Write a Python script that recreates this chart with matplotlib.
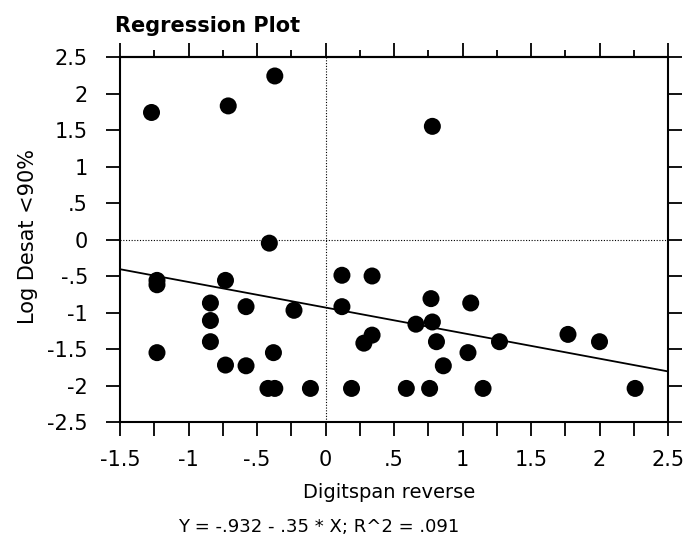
import matplotlib
matplotlib.use("Agg")
import matplotlib.pyplot as plt
import numpy as np

# Data
digitspan = [-1.27, -0.71, -0.37, 0.78, -0.41,
             -1.23, -1.23, -1.23, -0.73,
             -0.84, -0.84, -0.84, -0.58, -0.23,
             -0.73, -0.58, -0.38, -0.42, -0.37, -0.11,
             0.12, 0.12, 0.34, 0.34, 0.28, 0.19, 0.59,
             0.66, 0.77, 0.78, 0.81, 0.86, 0.76,
             1.06, 1.04, 1.15, 1.27, 1.77, 2.00, 2.26]
log_desat = [1.74, 1.83, 2.24, 1.55, -0.05,
             -0.56, -0.62, -1.55, -0.56,
             -0.87, -1.11, -1.40, -0.92, -0.97,
             -1.72, -1.73, -1.55, -2.04, -2.04, -2.04,
             -0.49, -0.92, -0.50, -1.31, -1.42, -2.04, -2.04,
             -1.16, -0.81, -1.13, -1.40, -1.73, -2.04,
             -0.87, -1.55, -2.04, -1.40, -1.30, -1.40, -2.04]
intercept = -0.932
slope = -0.35

x_ticks = [-1.5, -1, -0.5, 0, 0.5, 1, 1.5, 2, 2.5]
x_ticklabels = ["-1.5", "-1", "-.5", "0", ".5", "1", "1.5", "2", "2.5"]
y_ticks = [2.5, 2, 1.5, 1, 0.5, 0, -0.5, -1, -1.5, -2, -2.5]
y_ticklabels = ["2.5", "2", "1.5", "1", ".5", "0", "-.5", "-1", "-1.5", "-2", "-2.5"]

plt.rcParams['font.family'] = ['DejaVu Sans']

W, H = 691, 544
fig = plt.figure(figsize=(W / 100, H / 100), dpi=100)
L, R, T, B = 120, 668, 57, 422
ax = fig.add_axes([L / W, 1 - B / H, (R - L) / W, (B - T) / H])

ax.set_xlim(-1.5, 2.5)
ax.set_ylim(-2.5, 2.5)

ax.axhline(0, color="black", lw=0.8, ls=(0, (1, 1.5)), zorder=1)
ax.axvline(0, color="black", lw=0.8, ls=(0, (1, 1.5)), zorder=1)

xl = np.array([-1.5, 2.5])
ax.plot(xl, intercept + slope * xl, color="black", lw=1.3, zorder=2)

ax.scatter(digitspan, log_desat, s=150, color="black", edgecolors="none", zorder=3)

for sp in ax.spines.values():
    sp.set_linewidth(1.5)

ax.set_xticks(x_ticks)
ax.set_xticklabels(x_ticklabels)
ax.set_xticks(np.arange(-1.25, 2.5, 0.5), minor=True)
ax.set_yticks(y_ticks)
ax.set_yticklabels(y_ticklabels)

ax.tick_params(axis="x", which="both", direction="out", length=10, width=1.3,
               bottom=True, top=False, labelsize=15, pad=10)
ax.tick_params(axis="y", which="major", direction="out", length=10, width=1.3,
               left=True, right=True, labelsize=15, pad=13)

sec = ax.secondary_xaxis("top")
sec.set_xticks(x_ticks)
sec.set_xticks(np.arange(-1.25, 2.5, 0.5), minor=True)
sec.tick_params(which="major", direction="out", length=10, width=1.3, labeltop=False)
sec.tick_params(which="minor", direction="out", length=5, width=1.3)
sec.spines["top"].set_linewidth(1.5)

fig.text(389 / W, 1 - 493 / H, "Digitspan reverse", fontsize=14,
         ha="center", va="center")
fig.text(28 / W, 1 - 237 / H, "Log Desat <90%", fontsize=15, rotation=90,
         ha="center", va="center")
fig.text(115 / W, 1 - 26 / H, "Regression Plot", fontsize=15, fontweight="bold",
         ha="left", va="center")
fig.text(319 / W, 1 - 527 / H, "Y = -.932 - .35 * X; R^2 = .091", fontsize=13,
         ha="center", va="center")

fig.savefig("out.png", dpi=100)
